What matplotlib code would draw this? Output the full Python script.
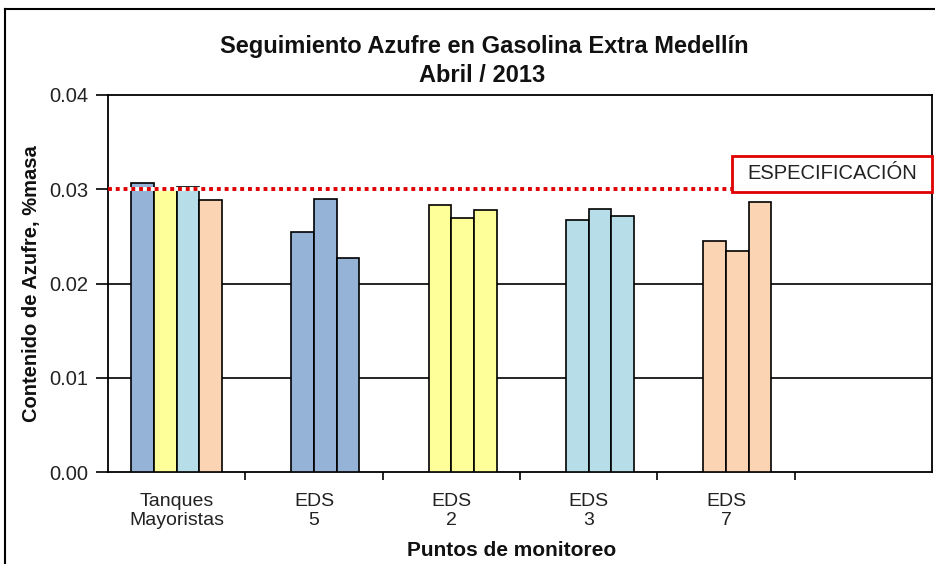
import matplotlib
matplotlib.use("Agg")
import matplotlib.pyplot as plt
import numpy as np
from matplotlib.patches import Rectangle
from matplotlib.lines import Line2D

plt.rcParams['font.family'] = ['Liberation Sans', 'DejaVu Sans']

# datos
categorias = ["Tanques\nMayoristas", "EDS\n5", "EDS\n2", "EDS\n3", "EDS\n7", ""]
tanques = [0.0307, 0.0300, 0.0302, 0.0289]
eds5 = [0.0255, 0.0290, 0.0227]
eds2 = [0.0283, 0.0270, 0.0278]
eds3 = [0.0267, 0.0279, 0.0272]
eds7 = [0.0245, 0.0234, 0.0287]
especificacion = 0.030
y_ticks = [0.00, 0.01, 0.02, 0.03, 0.04]

colores = ["#95B3D7", "#FFFF99", "#B7DDE8", "#FBD4B4"]
w = 0.1653

fig = plt.figure(figsize=(9.35, 5.64), dpi=100)
ax = fig.add_axes([108/935, (564-472)/564, 824/935, 377/564])

# Tanques: una barra por color
for k, v in enumerate(tanques):
    ax.bar(0 + (k - 1.5) * w, v, width=w, color=colores[k], edgecolor="black",
           linewidth=1.2, zorder=3)

# EDS: tres barras en las posiciones 2, 3, 4 del grupo
for i, vals in enumerate([eds5, eds2, eds3, eds7]):
    for k, v in enumerate(vals):
        ax.bar(i + 1 + (k - 0.5) * w, v, width=w, color=colores[i], edgecolor="black",
               linewidth=1.2, zorder=3)

for g in [0.01, 0.02, 0.03]:
    ax.axhline(g, color="black", linewidth=1.2, zorder=1)

# linea de especificacion
ax.axhline(especificacion, color="white", linewidth=2.8, zorder=4)
ax.axhline(especificacion, color="#E00000", linewidth=2.8, linestyle=(0, (1, 1)), zorder=5)

ax.add_patch(Rectangle((0.757, 0.743), 0.243, 0.096, transform=ax.transAxes,
                       facecolor="white", edgecolor="#E00000", linewidth=2, zorder=6,
                       clip_on=False))
ax.text(0.8786, 0.791, "ESPECIFICACIÓN", transform=ax.transAxes, ha="center", va="center",
        fontsize=14.5, color="#222222", zorder=7)

ax.set_xlim(-0.5, 5.5)
ax.set_ylim(0, 0.04)
ax.set_yticks(y_ticks)
ax.set_yticklabels([f"{t:.2f}" for t in y_ticks], fontsize=14.5, color="#222222")

ax.set_xticks(np.arange(0.5, 5.5, 1))
ax.set_xticklabels([])
ax.set_xticks(np.arange(len(categorias)), minor=True)
ax.set_xticklabels(categorias, minor=True, fontsize=14, color="#222222", linespacing=1.15)
ax.tick_params(axis="x", which="major", direction="out", length=6, width=1.2)
ax.tick_params(axis="x", which="minor", length=0, pad=15)
ax.tick_params(axis="y", direction="out", length=9, width=1.2, pad=5)

for s in ax.spines.values():
    s.set_linewidth(1.3)
    s.set_color("black")

ax.set_ylabel("Contenido de Azufre, %masa", fontsize=14.5, fontweight="bold", labelpad=6,
              color="#111111")
fig.text(512/935, 1 - 551/564, "Puntos de monitoreo", ha="center", va="center",
         fontsize=15, fontweight="bold", color="#111111")
fig.text(484/935, 1 - 47/564, "Seguimiento Azufre en Gasolina Extra Medellín", ha="center",
         va="center", fontsize=17, fontweight="bold", color="#111111")
fig.text(482/935, 1 - 76/564, "Abril / 2013", ha="center", va="center", fontsize=17,
         fontweight="bold", color="#111111")

# borde del area del grafico
fig.add_artist(Line2D([5/935, 5/935], [0, 1 - 9/564], transform=fig.transFigure,
                      color="black", linewidth=1.5))
fig.add_artist(Line2D([5/935, 1], [1 - 9/564, 1 - 9/564], transform=fig.transFigure,
                      color="black", linewidth=1.5))

fig.savefig("out.png", dpi=100)
